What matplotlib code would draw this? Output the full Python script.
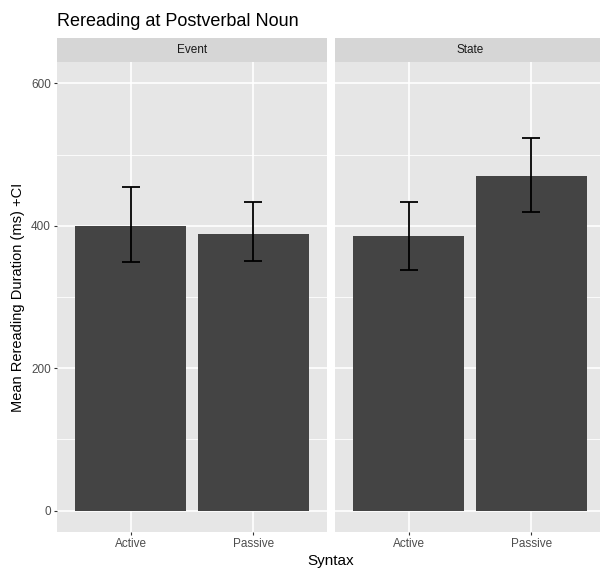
import numpy as np
import matplotlib.pyplot as plt

plt.rcParams['font.family'] = ['Liberation Sans', 'DejaVu Sans']

# data
panels = ["Event", "State"]
syntax = ["Active", "Passive"]
means = {"Event": [400, 389], "State": [385, 470]}
ci_low = {"Event": [349, 350], "State": [338, 419]}
ci_high = {"Event": [455, 433], "State": [433, 523]}

y_ticks = [0, 200, 400, 600]
y_minor = [100, 300, 500]

panel_bg = "#e6e6e6"
strip_bg = "#d6d6d6"
bar_col = "#444444"

fig = plt.figure(figsize=(6, 5.71), dpi=100)
W, H = 600, 571

def fx(px):
    return px / W

def fy(py):
    return 1 - py / H

top, bot = 62, 532
lefts = [57, 335]
pw = 270

for k, name in enumerate(panels):
    ax = fig.add_axes([fx(lefts[k]), fy(bot), fx(pw), fy(top) - fy(bot)])
    ax.set_facecolor(panel_bg)
    for s in ax.spines.values():
        s.set_visible(False)
    x = np.arange(len(syntax)) + 1
    ax.set_xlim(0.4, 2.6)
    ax.set_ylim(-30, 630)
    for m in y_minor:
        ax.axhline(m, color="white", lw=0.6, zorder=0)
    for t in y_ticks:
        ax.axhline(t, color="white", lw=1.2, zorder=0)
    for xi in x:
        ax.axvline(xi, color="white", lw=1.2, zorder=0)
    ax.bar(x, means[name], width=0.9, color=bar_col, zorder=2)
    m = np.array(means[name])
    err = [m - np.array(ci_low[name]), np.array(ci_high[name]) - m]
    ax.errorbar(x, m, yerr=err, fmt="none", ecolor="black", elinewidth=1.3,
                capsize=6.7, capthick=1.3, zorder=3)
    ax.set_xticks(x, syntax)
    ax.set_yticks(y_ticks, [str(t) for t in y_ticks])
    ax.tick_params(axis="both", length=2.5, color="#333333", labelcolor="#4d4d4d",
                   labelsize=8.5, pad=2)
    if k == 1:
        ax.tick_params(axis="y", left=False, labelleft=False)
    # facet strip
    sax = fig.add_axes([fx(lefts[k]), fy(top), fx(pw), fy(38) - fy(top)])
    sax.set_facecolor(strip_bg)
    sax.set_xticks([])
    sax.set_yticks([])
    for s in sax.spines.values():
        s.set_visible(False)
    sax.text(0.5, 0.5, name, ha="center", va="center", fontsize=8.5,
             color="#1a1a1a", transform=sax.transAxes)

fig.text(fx(57), fy(26), "Rereading at Postverbal Noun", fontsize=13,
         ha="left", va="baseline", color="black")
fig.text(fx(331), fy(565), "Syntax", fontsize=11, ha="center", va="baseline")
fig.text(fx(18), fy((top + bot) / 2), "Mean Rereading Duration (ms) +CI",
         fontsize=10.5, rotation=90, ha="center", va="center")

fig.savefig("out.png", dpi=100)
